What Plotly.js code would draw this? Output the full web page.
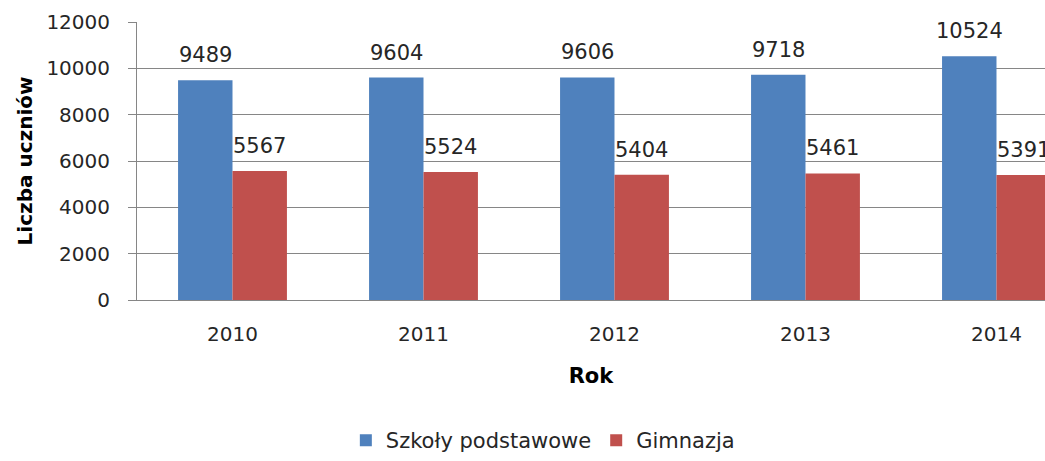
<!DOCTYPE html>
<html>
<head>
<meta charset="utf-8">
<script src="https://cdn.plot.ly/plotly-3.0.1.min.js"></script>
<style>html,body{margin:0;padding:0;background:#fff;}#chart{width:1045px;height:461px;}</style>
</head>
<body>
<div id="chart"></div>
<script>
const years = ["2010", "2011", "2012", "2013", "2014"];
const seriesNames = ["Szkoły podstawowe", "Gimnazja"];
const szkolyPodstawowe = [9489, 9604, 9606, 9718, 10524];
const gimnazja = [5567, 5524, 5404, 5461, 5391];
const yTicks = [0, 2000, 4000, 6000, 8000, 10000, 12000];

const FONT = "DejaVu Sans, sans-serif";
const TXT = "#262626";
const colors = ["#4F81BD", "#C0504D"];
const allSeries = [szkolyPodstawowe, gimnazja];

const traces = allSeries.map((vals, i) => ({
  type: "bar",
  name: seriesNames[i],
  x: years,
  y: vals,
  marker: {color: colors[i]},
  hoverinfo: "x+y+name"
}));

const bargap = 0.43;
const barW = (1 - bargap) / 2;
const annotations = [];
allSeries.forEach((vals, i) => {
  vals.forEach((v, j) => {
    annotations.push({
      x: j + (i === 0 ? -barW / 2 : barW / 2),
      y: v,
      xref: "x", yref: "y",
      text: String(v),
      showarrow: false,
      yanchor: "bottom",
      xanchor: "center",
      yshift: 11,
      font: {family: FONT, size: 21, color: TXT}
    });
  });
});

const layout = {
  width: 1045,
  height: 461,
  margin: {l: 137, r: 0, t: 22, b: 161, pad: 0},
  paper_bgcolor: "#fff",
  plot_bgcolor: "#fff",
  font: {family: FONT, color: TXT},
  barmode: "group",
  bargap: bargap,
  bargroupgap: 0,
  showlegend: true,
  legend: {
    orientation: "h",
    x: 0.23, xanchor: "left",
    yref: "container",
    y: -0.016, yanchor: "bottom",
    font: {family: FONT, size: 21, color: TXT},
    itemwidth: 30,
    tracegroupgap: 0
  },
  xaxis: {
    type: "category",
    range: [-0.5, 4.254],
    showgrid: false,
    showline: true,
    linecolor: "#868686",
    linewidth: 1,
    ticks: "",
    tickfont: {family: FONT, size: 20, color: TXT},
    ticklabelstandoff: 16,
    title: {text: "Rok", font: {family: FONT, size: 21, color: "#000", weight: "bold"}, standoff: 23},
    fixedrange: true
  },
  yaxis: {
    range: [0, 12000],
    tickvals: yTicks,
    ticktext: yTicks.map(String),
    showgrid: true,
    gridcolor: "#868686",
    gridwidth: 1,
    showline: true,
    linecolor: "#868686",
    linewidth: 1,
    ticks: "outside",
    ticklen: 8,
    tickcolor: "#868686",
    tickfont: {family: FONT, size: 20, color: TXT},
    ticklabelstandoff: 14,
    zeroline: false,
    title: {text: "Liczba uczniów", font: {family: FONT, size: 20, color: "#000", weight: "bold"}, standoff: 8},
    fixedrange: true
  },
  annotations: annotations
};

Plotly.newPlot("chart", traces, layout, {displayModeBar: false, staticPlot: true});
</script>
</body>
</html>
